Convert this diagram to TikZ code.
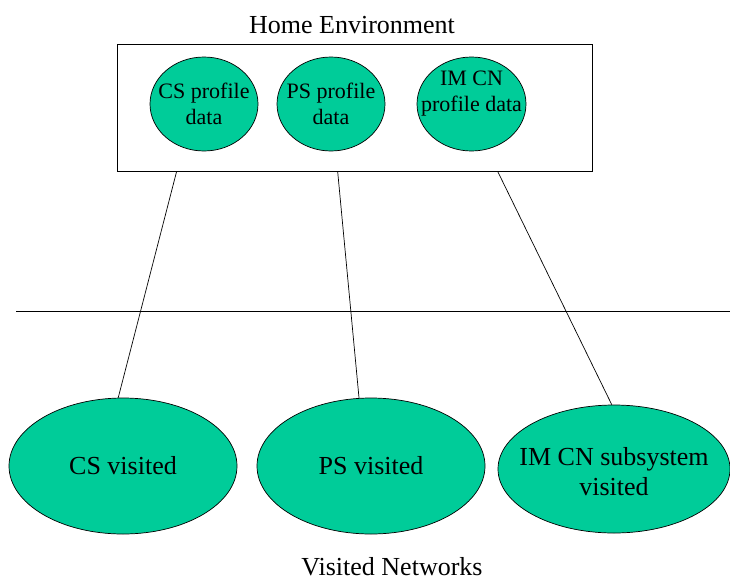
\documentclass[tikz,border=0pt]{standalone}
\usepackage{fontspec}
\setmainfont{Liberation Serif}
\usetikzlibrary{shapes.geometric}
\definecolor{tealfill}{HTML}{00CC99}
\begin{document}
\begin{tikzpicture}[x=1pt,y=-1pt, line width=0.7pt,
  blob/.style={ellipse, draw=black, fill=tealfill, inner sep=0pt},
  smalltxt/.style={font=\fontsize{22}{26}\selectfont, align=center},
  bigtxt/.style={font=\fontsize{26}{30}\selectfont, align=center},
  titletxt/.style={font=\fontsize{26}{30}\selectfont, anchor=base, inner sep=0pt},
  link/.style={draw=black, line width=0.7pt}]
\useasboundingbox (0,0) rectangle (730,581);
% home environment box
\node[draw, minimum width=475pt, minimum height=127pt, inner sep=0pt] (home) at (354.5,107.5) {};
\node[titletxt] (hometitle) at (352,33) {Home Environment};
\node[blob, minimum width=108pt, minimum height=94pt, label={[smalltxt]center:CS profile\\data}] (csp) at (204,104) {};
\node[blob, minimum width=108pt, minimum height=94pt, label={[smalltxt]center:PS profile\\data}] (psp) at (331,104) {};
\node[blob, minimum width=109pt, minimum height=94pt, label={[smalltxt, yshift=10pt]center:IM CN\\profile data}] (imp) at (471.5,104) {};
% separator
\coordinate (sepL) at (16,311);
\coordinate (sepR) at (730,311);
\draw[link] (sepL) -- (sepR);
% visited networks
\node[blob, minimum width=228pt, minimum height=136pt, label={[bigtxt]center:CS visited}] (csv) at (123,466) {};
\node[blob, minimum width=228pt, minimum height=136pt, label={[bigtxt]center:PS visited}] (psv) at (371,466) {};
\node[blob, minimum width=232pt, minimum height=128pt, label={[bigtxt, yshift=-3pt]center:IM CN subsystem\\visited}] (imv) at (614,469) {};
\node[titletxt] (vistitle) at (392,575) {Visited Networks};
% connectors
\coordinate (hcs) at ([xshift=60pt]home.south west);
\coordinate (hps) at ([xshift=221pt]home.south west);
\coordinate (him) at ([xshift=381pt]home.south west);
\draw[link] (hcs) -- (csv.94);
\draw[link] (hps) -- (psv.100.7);
\draw[link] (him) -- (imv.92);
\end{tikzpicture}
\end{document}
